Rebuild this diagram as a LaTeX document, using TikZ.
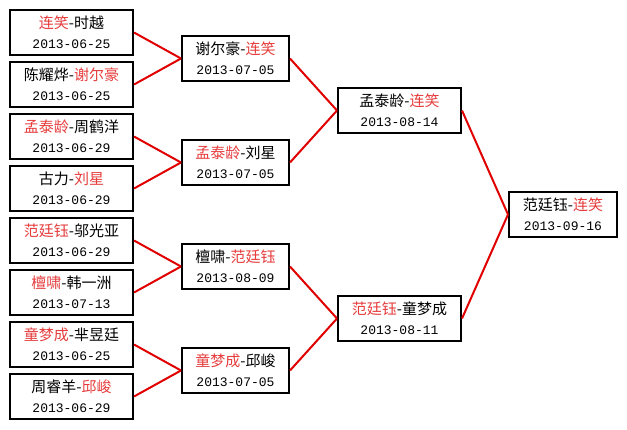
\documentclass[tikz,border=0pt]{standalone}
\usepackage{fontspec}
\newfontfamily\cjk{Noto Sans CJK SC}
\setmonofont{Liberation Mono}
\usepackage{tikz}
\usepackage{xcolor}
\definecolor{winred}{HTML}{E63C3C}
\definecolor{linkred}{HTML}{E00000}
\newcommand{\win}[1]{\textcolor{winred}{#1}}

\tikzset{
  match/.style={draw=black, line width=2pt, fill=white, inner sep=0pt,
    minimum height=45pt, align=center, font=\cjk\fontsize{15}{20}\selectfont},
  link/.style={linkred, line width=2pt}
}

\begin{document}
\begin{tikzpicture}[x=1pt, y=-1pt]
  % canvas 627 x 429, y runs downwards
  \useasboundingbox[fill=white] (0,0) rectangle (627,429);

  % first round
  \foreach \n/\y/\txt/\d in {%
    a1/32.5/{\win{连笑}-时越}/2013-06-25,
    a2/84.5/{陈耀烨-\win{谢尔豪}}/2013-06-25,
    a3/136.5/{\win{孟泰龄}-周鹤洋}/2013-06-29,
    a4/188.5/{古力-\win{刘星}}/2013-06-29,
    a5/240.5/{\win{范廷钰}-邬光亚}/2013-06-29,
    a6/292.5/{\win{檀啸}-韩一洲}/2013-07-13,
    a7/344.5/{\win{童梦成}-芈昱廷}/2013-06-25,
    a8/396.5/{周睿羊-\win{邱峻}}/2013-06-29
  }{
    \node[match, minimum width=123pt] (\n) at (71.5,\y)
      {\txt\\{\ttfamily\fontsize{13}{20}\selectfont\d}};
  }

  % second round
  \node[match, minimum width=107pt] (b1) at (235.5,58.5)
    {谢尔豪-\win{连笑}\\{\ttfamily\fontsize{13}{20}\selectfont 2013-07-05}};
  \node[match, minimum width=107pt] (b2) at (235.5,162.5)
    {\win{孟泰龄}-刘星\\{\ttfamily\fontsize{13}{20}\selectfont 2013-07-05}};
  \node[match, minimum width=107pt] (b3) at (235.5,266.5)
    {檀啸-\win{范廷钰}\\{\ttfamily\fontsize{13}{20}\selectfont 2013-08-09}};
  \node[match, minimum width=107pt] (b4) at (235.5,370.5)
    {\win{童梦成}-邱峻\\{\ttfamily\fontsize{13}{20}\selectfont 2013-07-05}};

  % semifinals
  \node[match, minimum width=123pt] (c1) at (399.5,110.5)
    {孟泰龄-\win{连笑}\\{\ttfamily\fontsize{13}{20}\selectfont 2013-08-14}};
  \node[match, minimum width=123pt] (c2) at (399.5,318.5)
    {\win{范廷钰}-童梦成\\{\ttfamily\fontsize{13}{20}\selectfont 2013-08-11}};

  % final
  \node[match, minimum width=108pt] (d1) at (563,214.5)
    {范廷钰-\win{连笑}\\{\ttfamily\fontsize{13}{20}\selectfont 2013-09-16}};

  % bracket lines
  \foreach \a/\b in {a1/b1,a2/b1,a3/b2,a4/b2,a5/b3,a6/b3,a7/b4,a8/b4,
                     b1/c1,b2/c1,b3/c2,b4/c2,c1/d1,c2/d1}{
    \draw[link] (\a.east) -- (\b.west);
  }
\end{tikzpicture}
\end{document}
